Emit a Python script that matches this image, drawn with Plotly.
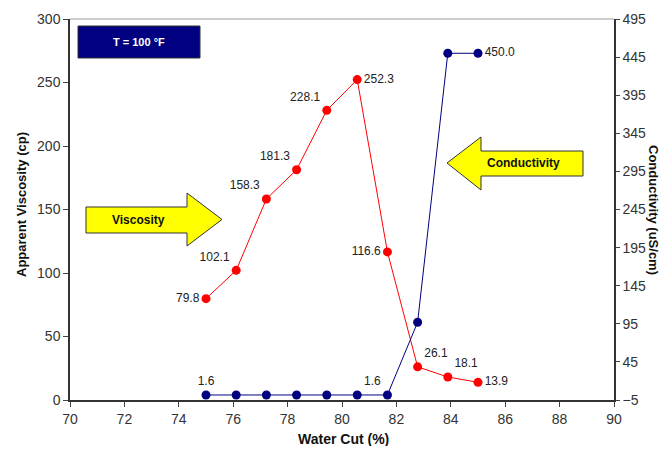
import plotly.graph_objects as go

water_cut = [75.0, 76.11, 77.22, 78.33, 79.44, 80.56, 81.67, 82.78, 83.89, 85.0]
viscosity = [79.8, 102.1, 158.3, 181.3, 228.1, 252.3, 116.6, 26.1, 18.1, 13.9]
conductivity = [1.6, 1.6, 1.6, 1.6, 1.6, 1.6, 1.6, 97.0, 450.0, 450.0]
visc_labels = ["79.8", "102.1", "158.3", "181.3", "228.1", "252.3", "116.6", "26.1", "18.1", "13.9"]
visc_pos = ["middle left", "top left", "top left", "top left", "top left", "middle right",
            "middle left", "top right", "top right", "middle right"]
cond_labels = ["1.6", "", "", "", "", "", "1.6", "", "", "450.0"]
cond_pos = ["top center", "top center", "top center", "top center", "top center", "top center",
            "top left", "top center", "top center", "middle right"]
x_ticks = list(range(70, 91, 2))
left_ticks = list(range(0, 301, 50))
right_ticks = list(range(-5, 496, 50))

FONT = "Liberation Sans, Arial, sans-serif"
RED = "#FF0000"
NAVY = "#000080"

fig = go.Figure()
fig.add_trace(go.Scatter(
    x=water_cut, y=viscosity, mode="lines+markers+text",
    line=dict(color=RED, width=1), marker=dict(color=RED, size=9),
    text=visc_labels, textposition=visc_pos,
    textfont=dict(family=FONT, size=12, color="#222"),
    yaxis="y", showlegend=False, cliponaxis=False))
fig.add_trace(go.Scatter(
    x=water_cut, y=conductivity, mode="lines+markers+text",
    line=dict(color=NAVY, width=1), marker=dict(color=NAVY, size=9),
    text=cond_labels, textposition=cond_pos,
    textfont=dict(family=FONT, size=12, color="#222"),
    yaxis="y2", showlegend=False, cliponaxis=False))

# page offset (body margin) is 8px; keep the page inside the window (no scrollbars)
OFF = 8
PL, PR, PT, PB = 70, 614, 19, 400   # plot area in page pixels
W = 670 - 2 * OFF
H = 454 - 2 * OFF
L, T = PL - OFF, PT - OFF
R = W - (PR - OFF)
B = H - (PB - OFF)
pw, ph = PR - PL, PB - PT

def px(x):
    return (x - PL) / pw

def py(y):
    return (PB - y) / ph

v_pts = [(86, 207), (187, 207), (187, 193), (222, 219.5), (187, 246), (187, 233), (86, 233)]
c_pts = [(583, 151), (481, 151), (481, 137), (447, 163), (481, 190), (481, 176), (583, 176)]

def path(pts):
    return "M " + " L ".join(f"{px(a):.4f},{py(b):.4f}" for a, b in pts) + " Z"

shapes = [
    dict(type="path", xref="paper", yref="paper", path=path(v_pts),
         fillcolor="#FFFF00", line=dict(color="#333", width=1)),
    dict(type="path", xref="paper", yref="paper", path=path(c_pts),
         fillcolor="#FFFF00", line=dict(color="#333", width=1)),
    dict(type="rect", xref="paper", yref="paper", x0=px(78), x1=px(200), y0=py(58), y1=py(26),
         fillcolor="#000080", line=dict(color="#333", width=1)),
    dict(type="line", xref="paper", yref="paper", x0=0, x1=1, y0=1, y1=1,
         line=dict(color="#BBBBBB", width=1.5)),
]

def ann(x, y, text, size, color="#111", angle=0):
    return dict(xref="paper", yref="paper", x=px(x), y=py(y), text=text, showarrow=False,
                xanchor="center", yanchor="middle", textangle=angle,
                font=dict(family=FONT, size=size, color=color))

annotations = [
    ann(139, 42, "<b>T = 100 °F</b>", 11, "white"),
    ann(138, 220, "<b>Viscosity</b>", 12),
    ann(523, 163, "<b>Conductivity</b>", 12),
    ann(21, 205, "<b>Apparent Viscosity (cp)</b>", 13, angle=-90),
    ann(653, 210, "<b>Conductivity (uS/cm)</b>", 13, angle=90),
    ann(343, 439, "<b>Water Cut (%)</b>", 14),
]

fig.update_layout(
    width=W, height=H, margin=dict(l=L, r=R, t=T, b=B, autoexpand=False),
    paper_bgcolor="white", plot_bgcolor="white",
    font=dict(family=FONT, size=14, color="#333"),
    xaxis=dict(range=[70, 90], tickvals=x_ticks, ticks="outside", ticklen=5,
               showline=True, linecolor="#333", linewidth=1.5, showgrid=False, zeroline=False),
    yaxis=dict(range=[0, 300], tickvals=left_ticks, ticks="outside", ticklen=5,
               showline=True, linecolor="#333", linewidth=1.5, showgrid=False, zeroline=False),
    yaxis2=dict(range=[-5, 495], tickvals=right_ticks, ticks="outside", ticklen=4,
                overlaying="y", side="right", anchor="x",
                showline=True, linecolor="#333", linewidth=1.5, showgrid=False, zeroline=False),
    yaxis3=dict(range=[-5, 495], tickvals=right_ticks, ticks="inside", ticklen=4,
                overlaying="y", side="right", anchor="x", showticklabels=False,
                showline=False, showgrid=False, zeroline=False, tickcolor="#333"),
    shapes=shapes, annotations=annotations,
)

fig.write_html("out.html")
